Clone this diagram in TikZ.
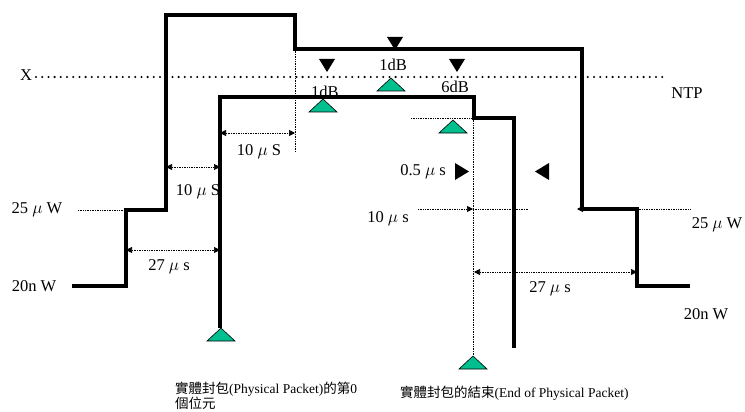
\documentclass[tikz,border=0pt]{standalone}
\usepackage{fontspec}
\setmainfont{Liberation Serif}
\newfontfamily\cjk{Noto Sans CJK TC}
\usetikzlibrary{arrows.meta}
\definecolor{markfill}{HTML}{00BF8F}
\tikzset{
  trace/.style    = {line width=3.6pt},
  guide/.style    = {densely dotted, line width=0.7pt},
  ntpline/.style  = {line width=2.3pt, dash pattern=on 0pt off 6.2pt, line cap=round},
  dimarrow/.style = {{Triangle[length=6pt, width=6pt]}-{Triangle[length=6pt, width=6pt]},
                     densely dotted, line width=0.7pt},
  tipend/.style   = {-{Triangle[length=6pt, width=6pt]}},
  lbl/.style      = {font=\fontsize{16.5}{18}\selectfont, inner sep=0pt},
  caption/.style  = {font=\fontsize{13.5}{14.5}\selectfont, inner sep=0pt, align=left},
  upmark/.style   = {fill=markfill, draw=black, line width=0.6pt},
  dnmark/.style   = {fill=black},
}

\begin{document}
\begin{tikzpicture}[x=1pt, y=-1pt]
  \useasboundingbox (0,0) rectangle (745,412);

  % labels first, so the traces run over them
  \node[lbl] (xlbl) at (26,75) {X};
  \node[lbl] (ntp) at (687,93) {NTP};
  \node[lbl] (pwl) at (37,210) {25 $\mu$ W};
  \node[lbl] (nwl) at (34,286) {20n W};
  \node[lbl] (pwr) at (717,225) {25 $\mu$ W};
  \node[lbl] (nwr) at (706,314) {20n W};
  \node[lbl] (dba) at (393,65) {1dB};
  \node[lbl] (dbb) at (455,87) {6dB};
  \node[lbl] (dbc) at (325,92) {1dB};
  \node[lbl] (tha) at (198,192) {10 $\mu$ S};
  \node[lbl] (thb) at (259,152) {10 $\mu$ S};
  \node[lbl] (tza) at (169,267) {27 $\mu$ s};
  \node[lbl] (tzb) at (550,289) {27 $\mu$ s};
  \node[lbl] (thc) at (388,219) {10 $\mu$ s};
  \node[lbl] (hlf) at (423,172) {0.5 $\mu$ s};

  \node[caption, anchor=north west] (capa) at (175,382)
    {{\cjk 實體封包}(Physical Packet){\cjk 的第}0\\{\cjk 個位元}};
  \node[caption, anchor=base west] (capb) at (400,397)
    {{\cjk 實體封包的結束}(End of Physical Packet)};

  % corner points of both traces
  \foreach \n/\x/\y in {o0/72/286, o1/126/286, o2/126/210, o3/166/210, o4/166/15,
                        o5/295/15, o6/295/49, o7/582/49, o8/582/209, o9/637/209,
                        o10/637/286, o11/690/286,
                        i0/220/328, i1/220/97, i2/474/97, i3/474/118, i4/514/118, i5/514/348}
    \coordinate (\n) at (\x,\y);

  % X / NTP level
  \coordinate (xl) at (36,77);
  \coordinate (xr) at (667,77);
  \draw[ntpline] (xl) -- (xr);

  % dotted guides
  \coordinate (ga) at (295,152);
  \coordinate (gb) at (473,355);
  \coordinate (gc) at (411,118);
  \coordinate (gd) at (78,210);
  \coordinate (ge) at (690,209);
  \draw[guide] (o6) -- (ga);
  \draw[guide] (473,118) -- (gb);
  \draw[guide] (gc) -- (473,118);
  \draw[guide] (gd) -- (o2);
  \draw[guide] (o9) -- (ge);

  % time spans
  \foreach \xa/\xb/\y in {166/220/167, 220/295/133, 126/220/250, 474/637/272}
    \draw[dimarrow] (\xa,\y) -- (\xb,\y);
  \draw[guide, tipend] (418,209) -- (473,209);
  \draw[guide] (473,209) -- (528,209);
  \draw[tipend, line width=0.7pt] (588,209) -- (577,209);

  % traces
  \draw[trace] (o0) -- (o1) -- (o2) -- (o3) -- (o4) -- (o5) -- (o6) -- (o7)
    -- (o8) -- (o9) -- (o10) -- (o11);
  \draw[trace] (i0) -- (i1) -- (i2) -- (i3) -- (i4) -- (i5);

  % markers
  \foreach \px/\py in {391/91, 323/112, 453/133, 221/341, 473/369}
    \filldraw[upmark] (\px-14,\py) -- (\px,\py-13) -- (\px+14,\py) -- cycle;
  \foreach \px/\py in {395/37, 327/59, 457/59}
    \fill[dnmark] (\px-8,\py) -- (\px+8,\py) -- (\px,\py+13) -- cycle;
  \fill[dnmark] (455,163) -- (469,171.5) -- (455,180) -- cycle;
  \fill[dnmark] (549,163) -- (535,171.5) -- (549,180) -- cycle;
\end{tikzpicture}
\end{document}
